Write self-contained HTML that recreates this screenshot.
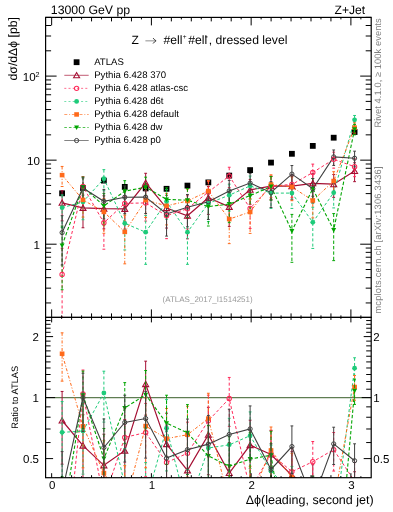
<!DOCTYPE html>
<html><head><meta charset="utf-8"><style>
html,body{margin:0;padding:0;background:#fff;}
svg{display:block;will-change:transform;}
text{font-family:"Liberation Sans",sans-serif;text-rendering:geometricPrecision;}
</style></head><body>
<svg width="393" height="512" viewBox="0 0 393 512">
<rect width="393" height="512" fill="#fff"/>
<clipPath id="cm"><rect x="45.6" y="17.4" width="325.59999999999997" height="300.0"/></clipPath>
<clipPath id="cr"><rect x="45.6" y="317.4" width="325.59999999999997" height="160.3"/></clipPath>
<g clip-path="url(#cm)"><rect x="59.20" y="190.40" width="5.8" height="5.8" fill="#000"/><rect x="80.09" y="185.10" width="5.8" height="5.8" fill="#000"/><rect x="100.98" y="177.70" width="5.8" height="5.8" fill="#000"/><rect x="121.87" y="184.00" width="5.8" height="5.8" fill="#000"/><rect x="142.76" y="185.50" width="5.8" height="5.8" fill="#000"/><rect x="163.65" y="185.90" width="5.8" height="5.8" fill="#000"/><rect x="184.55" y="182.70" width="5.8" height="5.8" fill="#000"/><rect x="205.44" y="179.50" width="5.8" height="5.8" fill="#000"/><rect x="226.33" y="172.70" width="5.8" height="5.8" fill="#000"/><rect x="247.22" y="167.20" width="5.8" height="5.8" fill="#000"/><rect x="268.11" y="159.70" width="5.8" height="5.8" fill="#000"/><rect x="289.00" y="150.90" width="5.8" height="5.8" fill="#000"/><rect x="309.89" y="143.00" width="5.8" height="5.8" fill="#000"/><rect x="330.79" y="134.80" width="5.8" height="5.8" fill="#000"/><rect x="351.68" y="129.10" width="5.8" height="5.8" fill="#000"/><path d="M62.10 190.74V220.92M82.99 195.11V227.76M103.88 195.79V228.86M124.77 195.96V229.13M145.66 173.29V195.69M166.55 195.28V228.04M187.45 201.80V238.81M208.34 186.43V214.40M229.23 194.26V226.41M250.12 179.46V204.28M271.01 176.29V199.84M291.90 176.21V199.72M312.79 173.73V196.30M333.69 174.53V197.39M354.58 162.76V181.66" stroke="#a50f33" stroke-width="1" fill="none"/>
<path d="M60.70 190.74h2.8M60.70 220.92h2.8M81.59 195.11h2.8M81.59 227.76h2.8M102.48 195.79h2.8M102.48 228.86h2.8M123.37 195.96h2.8M123.37 229.13h2.8M144.26 173.29h2.8M144.26 195.69h2.8M165.15 195.28h2.8M165.15 228.04h2.8M186.05 201.80h2.8M186.05 238.81h2.8M206.94 186.43h2.8M206.94 214.40h2.8M227.83 194.26h2.8M227.83 226.41h2.8M248.72 179.46h2.8M248.72 204.28h2.8M269.61 176.29h2.8M269.61 199.84h2.8M290.50 176.21h2.8M290.50 199.72h2.8M311.39 173.73h2.8M311.39 196.30h2.8M332.29 174.53h2.8M332.29 197.39h2.8M353.18 162.76h2.8M353.18 181.66h2.8" stroke="#a50f33" stroke-width="1" fill="none"/>
<polyline points="62.10,202.80 82.99,207.90 103.88,208.70 124.77,208.90 145.66,182.80 166.55,208.10 187.45,215.80 208.34,197.80 229.23,206.90 250.12,189.80 271.01,186.20 291.90,186.10 312.79,183.30 333.69,184.20 354.58,171.00" stroke="#a50f33" stroke-width="1.2" fill="none"/>
<path d="M62.10 248.31V322.40M82.99 176.56V200.21M103.88 207.64V249.19M124.77 191.26V221.72M145.66 190.83V221.06M166.55 201.71V238.67M187.45 195.79V228.86M208.34 181.38V207.03M229.23 167.24V187.54M250.12 195.53V228.44M271.01 176.12V199.59M291.90 174.79V197.76M312.79 164.11V183.41M333.69 152.17V168.17M354.58 158.89V176.65" stroke="#ff2a5a" stroke-width="1" stroke-dasharray="3 2.2" fill="none"/>
<path d="M60.70 248.31h2.8M60.70 322.40h2.8M81.59 176.56h2.8M81.59 200.21h2.8M102.48 207.64h2.8M102.48 249.19h2.8M123.37 191.26h2.8M123.37 221.72h2.8M144.26 190.83h2.8M144.26 221.06h2.8M165.15 201.71h2.8M165.15 238.67h2.8M186.05 195.79h2.8M186.05 228.86h2.8M206.94 181.38h2.8M206.94 207.03h2.8M227.83 167.24h2.8M227.83 187.54h2.8M248.72 195.53h2.8M248.72 228.44h2.8M269.61 176.12h2.8M269.61 199.59h2.8M290.50 174.79h2.8M290.50 197.76h2.8M311.39 164.11h2.8M311.39 183.41h2.8M332.29 152.17h2.8M332.29 168.17h2.8M353.18 158.89h2.8M353.18 176.65h2.8" stroke="#ff2a5a" stroke-width="1" fill="none"/>
<polyline points="62.10,274.40 82.99,186.50 103.88,222.80 124.77,203.40 145.66,202.90 166.55,215.70 187.45,208.70 208.34,192.00 229.23,176.00 250.12,208.40 271.01,186.00 291.90,184.50 312.79,172.50 333.69,159.30 354.58,166.70" stroke="#ff2a5a" stroke-width="1.0" stroke-dasharray="3 2.2" fill="none"/>
<path d="M62.10 194.94V227.49M82.99 189.97V219.74M103.88 169.65V190.76M124.77 208.06V249.96M145.66 215.38V264.34M166.55 189.63V219.21M187.45 215.38V264.34M208.34 191.17V221.59M229.23 184.17V211.07M250.12 176.03V199.47M271.01 182.34V208.41M291.90 182.34V208.41M312.79 207.23V248.43M333.69 182.00V207.91M354.58 115.48V124.70" stroke="#1ecb7a" stroke-width="1" stroke-dasharray="3 2.2" fill="none"/>
<path d="M60.70 194.94h2.8M60.70 227.49h2.8M81.59 189.97h2.8M81.59 219.74h2.8M102.48 169.65h2.8M102.48 190.76h2.8M123.37 208.06h2.8M123.37 249.96h2.8M144.26 215.38h2.8M144.26 264.34h2.8M165.15 189.63h2.8M165.15 219.21h2.8M186.05 215.38h2.8M186.05 264.34h2.8M206.94 191.17h2.8M206.94 221.59h2.8M227.83 184.17h2.8M227.83 211.07h2.8M248.72 176.03h2.8M248.72 199.47h2.8M269.61 182.34h2.8M269.61 208.41h2.8M290.50 182.34h2.8M290.50 208.41h2.8M311.39 207.23h2.8M311.39 248.43h2.8M332.29 182.00h2.8M332.29 207.91h2.8M353.18 115.48h2.8M353.18 124.70h2.8" stroke="#1ecb7a" stroke-width="1" fill="none"/>
<polyline points="62.10,207.70 82.99,201.90 103.88,178.70 124.77,223.30 145.66,232.20 166.55,201.50 187.45,232.20 208.34,203.30 229.23,195.20 250.12,185.90 271.01,193.10 291.90,193.10 312.79,222.30 333.69,192.70 354.58,119.80" stroke="#1ecb7a" stroke-width="1.0" stroke-dasharray="3 2.2" fill="none"/>
<path d="M62.10 166.44V186.48M82.99 188.25V217.12M103.88 198.51V233.28M124.77 215.13V263.83M145.66 188.51V217.51M166.55 193.32V224.92M187.45 189.20V218.56M208.34 180.60V205.90M229.23 204.56V243.63M250.12 198.59V233.42M271.01 174.79V197.76M291.90 176.91V200.70M312.79 188.76V217.90M333.69 171.70V193.52M354.58 122.83V133.09" stroke="#ff6a1a" stroke-width="1" stroke-dasharray="3 1.8 1 1.8" fill="none"/>
<path d="M60.70 166.44h2.8M60.70 186.48h2.8M81.59 188.25h2.8M81.59 217.12h2.8M102.48 198.51h2.8M102.48 233.28h2.8M123.37 215.13h2.8M123.37 263.83h2.8M144.26 188.51h2.8M144.26 217.51h2.8M165.15 193.32h2.8M165.15 224.92h2.8M186.05 189.20h2.8M186.05 218.56h2.8M206.94 180.60h2.8M206.94 205.90h2.8M227.83 204.56h2.8M227.83 243.63h2.8M248.72 198.59h2.8M248.72 233.42h2.8M269.61 174.79h2.8M269.61 197.76h2.8M290.50 176.91h2.8M290.50 200.70h2.8M311.39 188.76h2.8M311.39 217.90h2.8M332.29 171.70h2.8M332.29 193.52h2.8M353.18 122.83h2.8M353.18 133.09h2.8" stroke="#ff6a1a" stroke-width="1" fill="none"/>
<polyline points="62.10,175.10 82.99,199.90 103.88,211.90 124.77,231.90 145.66,200.20 166.55,205.80 187.45,201.00 208.34,191.10 229.23,219.10 250.12,212.00 271.01,184.50 291.90,186.90 312.79,200.50 333.69,181.00 354.58,127.60" stroke="#ff6a1a" stroke-width="1.0" stroke-dasharray="3 1.8 1 1.8" fill="none"/>
<path d="M62.10 226.08V289.74M82.99 177.00V200.82M103.88 193.40V225.06M124.77 180.68V206.03M145.66 177.17V201.07M166.55 187.81V216.47M187.45 188.51V217.51M208.34 194.00V226.00M229.23 191.86V222.65M250.12 184.52V211.58M271.01 176.56V200.21M291.90 214.40V262.31M312.79 178.49V202.92M333.69 213.58V260.64M354.58 124.33V134.82" stroke="#00a500" stroke-width="1" stroke-dasharray="3.4 2" fill="none"/>
<path d="M60.70 226.08h2.8M60.70 289.74h2.8M81.59 177.00h2.8M81.59 200.82h2.8M102.48 193.40h2.8M102.48 225.06h2.8M123.37 180.68h2.8M123.37 206.03h2.8M144.26 177.17h2.8M144.26 201.07h2.8M165.15 187.81h2.8M165.15 216.47h2.8M186.05 188.51h2.8M186.05 217.51h2.8M206.94 194.00h2.8M206.94 226.00h2.8M227.83 191.86h2.8M227.83 222.65h2.8M248.72 184.52h2.8M248.72 211.58h2.8M269.61 176.56h2.8M269.61 200.21h2.8M290.50 214.40h2.8M290.50 262.31h2.8M311.39 178.49h2.8M311.39 202.92h2.8M332.29 213.58h2.8M332.29 260.64h2.8M353.18 124.33h2.8M353.18 134.82h2.8" stroke="#00a500" stroke-width="1" fill="none"/>
<polyline points="62.10,245.50 82.99,187.00 103.88,205.90 124.77,191.20 145.66,187.20 166.55,199.40 187.45,200.20 208.34,206.60 229.23,204.10 250.12,195.60 271.01,186.50 291.90,231.00 312.79,188.70 333.69,230.00 354.58,129.20" stroke="#00a500" stroke-width="1.1" stroke-dasharray="3.4 2" fill="none"/>
<path d="M62.10 215.70V265.02M82.99 177.88V202.05M103.88 189.45V218.95M124.77 185.91V213.63M145.66 185.82V213.50M166.55 200.20V236.10M187.45 194.51V226.81M208.34 189.80V219.47M229.23 180.42V205.65M250.12 173.56V196.06M271.01 181.73V207.53M291.90 165.54V185.30M312.79 178.49V202.92M333.69 149.98V165.44M354.58 151.17V166.92" stroke="#404040" stroke-width="1" fill="none"/>
<path d="M60.70 215.70h2.8M60.70 265.02h2.8M81.59 177.88h2.8M81.59 202.05h2.8M102.48 189.45h2.8M102.48 218.95h2.8M123.37 185.91h2.8M123.37 213.63h2.8M144.26 185.82h2.8M144.26 213.50h2.8M165.15 200.20h2.8M165.15 236.10h2.8M186.05 194.51h2.8M186.05 226.81h2.8M206.94 189.80h2.8M206.94 219.47h2.8M227.83 180.42h2.8M227.83 205.65h2.8M248.72 173.56h2.8M248.72 196.06h2.8M269.61 181.73h2.8M269.61 207.53h2.8M290.50 165.54h2.8M290.50 185.30h2.8M311.39 178.49h2.8M311.39 202.92h2.8M332.29 149.98h2.8M332.29 165.44h2.8M353.18 151.17h2.8M353.18 166.92h2.8" stroke="#404040" stroke-width="1" fill="none"/>
<polyline points="62.10,232.60 82.99,188.00 103.88,201.30 124.77,197.20 145.66,197.10 166.55,213.90 187.45,207.20 208.34,201.70 229.23,190.90 250.12,183.10 271.01,192.40 291.90,174.10 312.79,188.70 333.69,156.90 354.58,158.20" stroke="#404040" stroke-width="1.1" fill="none"/>
<path d="M59.10 205.30L62.10 200.10L65.10 205.30Z" fill="none" stroke="#a50f33" stroke-width="1.1"/>
<path d="M79.99 210.40L82.99 205.20L85.99 210.40Z" fill="none" stroke="#a50f33" stroke-width="1.1"/>
<path d="M100.88 211.20L103.88 206.00L106.88 211.20Z" fill="none" stroke="#a50f33" stroke-width="1.1"/>
<path d="M121.77 211.40L124.77 206.20L127.77 211.40Z" fill="none" stroke="#a50f33" stroke-width="1.1"/>
<path d="M142.66 185.30L145.66 180.10L148.66 185.30Z" fill="none" stroke="#a50f33" stroke-width="1.1"/>
<path d="M163.55 210.60L166.55 205.40L169.55 210.60Z" fill="none" stroke="#a50f33" stroke-width="1.1"/>
<path d="M184.45 218.30L187.45 213.10L190.45 218.30Z" fill="none" stroke="#a50f33" stroke-width="1.1"/>
<path d="M205.34 200.30L208.34 195.10L211.34 200.30Z" fill="none" stroke="#a50f33" stroke-width="1.1"/>
<path d="M226.23 209.40L229.23 204.20L232.23 209.40Z" fill="none" stroke="#a50f33" stroke-width="1.1"/>
<path d="M247.12 192.30L250.12 187.10L253.12 192.30Z" fill="none" stroke="#a50f33" stroke-width="1.1"/>
<path d="M268.01 188.70L271.01 183.50L274.01 188.70Z" fill="none" stroke="#a50f33" stroke-width="1.1"/>
<path d="M288.90 188.60L291.90 183.40L294.90 188.60Z" fill="none" stroke="#a50f33" stroke-width="1.1"/>
<path d="M309.79 185.80L312.79 180.60L315.79 185.80Z" fill="none" stroke="#a50f33" stroke-width="1.1"/>
<path d="M330.69 186.70L333.69 181.50L336.69 186.70Z" fill="none" stroke="#a50f33" stroke-width="1.1"/>
<path d="M351.58 173.50L354.58 168.30L357.58 173.50Z" fill="none" stroke="#a50f33" stroke-width="1.1"/>
<circle cx="62.10" cy="274.40" r="2.2" fill="none" stroke="#ff2a5a" stroke-width="1.05"/>
<circle cx="82.99" cy="186.50" r="2.2" fill="none" stroke="#ff2a5a" stroke-width="1.05"/>
<circle cx="103.88" cy="222.80" r="2.2" fill="none" stroke="#ff2a5a" stroke-width="1.05"/>
<circle cx="124.77" cy="203.40" r="2.2" fill="none" stroke="#ff2a5a" stroke-width="1.05"/>
<circle cx="145.66" cy="202.90" r="2.2" fill="none" stroke="#ff2a5a" stroke-width="1.05"/>
<circle cx="166.55" cy="215.70" r="2.2" fill="none" stroke="#ff2a5a" stroke-width="1.05"/>
<circle cx="187.45" cy="208.70" r="2.2" fill="none" stroke="#ff2a5a" stroke-width="1.05"/>
<circle cx="208.34" cy="192.00" r="2.2" fill="none" stroke="#ff2a5a" stroke-width="1.05"/>
<circle cx="229.23" cy="176.00" r="2.2" fill="none" stroke="#ff2a5a" stroke-width="1.05"/>
<circle cx="250.12" cy="208.40" r="2.2" fill="none" stroke="#ff2a5a" stroke-width="1.05"/>
<circle cx="271.01" cy="186.00" r="2.2" fill="none" stroke="#ff2a5a" stroke-width="1.05"/>
<circle cx="291.90" cy="184.50" r="2.2" fill="none" stroke="#ff2a5a" stroke-width="1.05"/>
<circle cx="312.79" cy="172.50" r="2.2" fill="none" stroke="#ff2a5a" stroke-width="1.05"/>
<circle cx="333.69" cy="159.30" r="2.2" fill="none" stroke="#ff2a5a" stroke-width="1.05"/>
<circle cx="354.58" cy="166.70" r="2.2" fill="none" stroke="#ff2a5a" stroke-width="1.05"/>
<circle cx="62.10" cy="207.70" r="2.4" fill="#1ecb7a"/>
<circle cx="82.99" cy="201.90" r="2.4" fill="#1ecb7a"/>
<circle cx="103.88" cy="178.70" r="2.4" fill="#1ecb7a"/>
<circle cx="124.77" cy="223.30" r="2.4" fill="#1ecb7a"/>
<circle cx="145.66" cy="232.20" r="2.4" fill="#1ecb7a"/>
<circle cx="166.55" cy="201.50" r="2.4" fill="#1ecb7a"/>
<circle cx="187.45" cy="232.20" r="2.4" fill="#1ecb7a"/>
<circle cx="208.34" cy="203.30" r="2.4" fill="#1ecb7a"/>
<circle cx="229.23" cy="195.20" r="2.4" fill="#1ecb7a"/>
<circle cx="250.12" cy="185.90" r="2.4" fill="#1ecb7a"/>
<circle cx="271.01" cy="193.10" r="2.4" fill="#1ecb7a"/>
<circle cx="291.90" cy="193.10" r="2.4" fill="#1ecb7a"/>
<circle cx="312.79" cy="222.30" r="2.4" fill="#1ecb7a"/>
<circle cx="333.69" cy="192.70" r="2.4" fill="#1ecb7a"/>
<circle cx="354.58" cy="119.80" r="2.4" fill="#1ecb7a"/>
<rect x="59.75" y="172.85" width="4.7" height="4.5" fill="#ff6a1a"/>
<rect x="80.64" y="197.65" width="4.7" height="4.5" fill="#ff6a1a"/>
<rect x="101.53" y="209.65" width="4.7" height="4.5" fill="#ff6a1a"/>
<rect x="122.42" y="229.65" width="4.7" height="4.5" fill="#ff6a1a"/>
<rect x="143.31" y="197.95" width="4.7" height="4.5" fill="#ff6a1a"/>
<rect x="164.20" y="203.55" width="4.7" height="4.5" fill="#ff6a1a"/>
<rect x="185.10" y="198.75" width="4.7" height="4.5" fill="#ff6a1a"/>
<rect x="205.99" y="188.85" width="4.7" height="4.5" fill="#ff6a1a"/>
<rect x="226.88" y="216.85" width="4.7" height="4.5" fill="#ff6a1a"/>
<rect x="247.77" y="209.75" width="4.7" height="4.5" fill="#ff6a1a"/>
<rect x="268.66" y="182.25" width="4.7" height="4.5" fill="#ff6a1a"/>
<rect x="289.55" y="184.65" width="4.7" height="4.5" fill="#ff6a1a"/>
<rect x="310.44" y="198.25" width="4.7" height="4.5" fill="#ff6a1a"/>
<rect x="331.34" y="178.75" width="4.7" height="4.5" fill="#ff6a1a"/>
<rect x="352.23" y="125.35" width="4.7" height="4.5" fill="#ff6a1a"/>
<path d="M59.60 243.50L64.60 243.50L62.10 248.00Z" fill="#00a500"/>
<path d="M80.49 185.00L85.49 185.00L82.99 189.50Z" fill="#00a500"/>
<path d="M101.38 203.90L106.38 203.90L103.88 208.40Z" fill="#00a500"/>
<path d="M122.27 189.20L127.27 189.20L124.77 193.70Z" fill="#00a500"/>
<path d="M143.16 185.20L148.16 185.20L145.66 189.70Z" fill="#00a500"/>
<path d="M164.05 197.40L169.05 197.40L166.55 201.90Z" fill="#00a500"/>
<path d="M184.95 198.20L189.95 198.20L187.45 202.70Z" fill="#00a500"/>
<path d="M205.84 204.60L210.84 204.60L208.34 209.10Z" fill="#00a500"/>
<path d="M226.73 202.10L231.73 202.10L229.23 206.60Z" fill="#00a500"/>
<path d="M247.62 193.60L252.62 193.60L250.12 198.10Z" fill="#00a500"/>
<path d="M268.51 184.50L273.51 184.50L271.01 189.00Z" fill="#00a500"/>
<path d="M289.40 229.00L294.40 229.00L291.90 233.50Z" fill="#00a500"/>
<path d="M310.29 186.70L315.29 186.70L312.79 191.20Z" fill="#00a500"/>
<path d="M331.19 228.00L336.19 228.00L333.69 232.50Z" fill="#00a500"/>
<path d="M352.08 127.20L357.08 127.20L354.58 131.70Z" fill="#00a500"/>
<circle cx="62.10" cy="232.60" r="2.1" fill="none" stroke="#404040" stroke-width="1"/>
<circle cx="82.99" cy="188.00" r="2.1" fill="none" stroke="#404040" stroke-width="1"/>
<circle cx="103.88" cy="201.30" r="2.1" fill="none" stroke="#404040" stroke-width="1"/>
<circle cx="124.77" cy="197.20" r="2.1" fill="none" stroke="#404040" stroke-width="1"/>
<circle cx="145.66" cy="197.10" r="2.1" fill="none" stroke="#404040" stroke-width="1"/>
<circle cx="166.55" cy="213.90" r="2.1" fill="none" stroke="#404040" stroke-width="1"/>
<circle cx="187.45" cy="207.20" r="2.1" fill="none" stroke="#404040" stroke-width="1"/>
<circle cx="208.34" cy="201.70" r="2.1" fill="none" stroke="#404040" stroke-width="1"/>
<circle cx="229.23" cy="190.90" r="2.1" fill="none" stroke="#404040" stroke-width="1"/>
<circle cx="250.12" cy="183.10" r="2.1" fill="none" stroke="#404040" stroke-width="1"/>
<circle cx="271.01" cy="192.40" r="2.1" fill="none" stroke="#404040" stroke-width="1"/>
<circle cx="291.90" cy="174.10" r="2.1" fill="none" stroke="#404040" stroke-width="1"/>
<circle cx="312.79" cy="188.70" r="2.1" fill="none" stroke="#404040" stroke-width="1"/>
<circle cx="333.69" cy="156.90" r="2.1" fill="none" stroke="#404040" stroke-width="1"/>
<circle cx="354.58" cy="158.20" r="2.1" fill="none" stroke="#404040" stroke-width="1"/></g>
<g clip-path="url(#cr)"><line x1="45.6" y1="397.60" x2="371.2" y2="397.60" stroke="#5f7d52" stroke-width="1.2"/>
<path d="M62.10 391.44V464.20M82.99 414.74V493.47M103.88 434.22V513.94M124.77 419.44V499.41M145.66 361.17V415.18M166.55 413.22V492.19M187.45 436.65V525.89M208.34 407.32V474.76M229.23 442.58V520.09M250.12 420.16V480.01M271.01 430.62V487.38M291.90 451.62V508.30M312.79 464.71V519.11M333.69 486.39V541.52M354.58 471.77V517.31" stroke="#a50f33" stroke-width="1" fill="none"/>
<path d="M60.70 391.44h2.8M60.70 464.20h2.8M81.59 414.74h2.8M81.59 493.47h2.8M102.48 434.22h2.8M102.48 513.94h2.8M123.37 419.44h2.8M123.37 499.41h2.8M144.26 361.17h2.8M144.26 415.18h2.8M165.15 413.22h2.8M165.15 492.19h2.8M186.05 436.65h2.8M186.05 525.89h2.8M206.94 407.32h2.8M206.94 474.76h2.8M227.83 442.58h2.8M227.83 520.09h2.8M248.72 420.16h2.8M248.72 480.01h2.8M269.61 430.62h2.8M269.61 487.38h2.8M290.50 451.62h2.8M290.50 508.30h2.8M311.39 464.71h2.8M311.39 519.11h2.8M332.29 486.39h2.8M332.29 541.52h2.8M353.18 471.77h2.8M353.18 517.31h2.8" stroke="#a50f33" stroke-width="1" fill="none"/>
<polyline points="62.10,420.50 82.99,445.58 103.88,465.35 124.77,450.64 145.66,384.10 166.55,444.13 187.45,470.41 208.34,434.73 229.23,473.06 250.12,445.10 271.01,454.50 291.90,475.47 312.79,487.77 333.69,509.71 354.58,491.63" stroke="#a50f33" stroke-width="1.2" fill="none"/>
<path d="M59.10 423.00L62.10 417.80L65.10 423.00Z" fill="none" stroke="#a50f33" stroke-width="1.1"/>
<path d="M79.99 448.08L82.99 442.88L85.99 448.08Z" fill="none" stroke="#a50f33" stroke-width="1.1"/>
<path d="M100.88 467.85L103.88 462.65L106.88 467.85Z" fill="none" stroke="#a50f33" stroke-width="1.1"/>
<path d="M121.77 453.14L124.77 447.94L127.77 453.14Z" fill="none" stroke="#a50f33" stroke-width="1.1"/>
<path d="M142.66 386.60L145.66 381.40L148.66 386.60Z" fill="none" stroke="#a50f33" stroke-width="1.1"/>
<path d="M163.55 446.63L166.55 441.43L169.55 446.63Z" fill="none" stroke="#a50f33" stroke-width="1.1"/>
<path d="M184.45 472.91L187.45 467.71L190.45 472.91Z" fill="none" stroke="#a50f33" stroke-width="1.1"/>
<path d="M205.34 437.23L208.34 432.03L211.34 437.23Z" fill="none" stroke="#a50f33" stroke-width="1.1"/>
<path d="M226.23 475.56L229.23 470.36L232.23 475.56Z" fill="none" stroke="#a50f33" stroke-width="1.1"/>
<path d="M247.12 447.60L250.12 442.40L253.12 447.60Z" fill="none" stroke="#a50f33" stroke-width="1.1"/>
<path d="M268.01 457.00L271.01 451.80L274.01 457.00Z" fill="none" stroke="#a50f33" stroke-width="1.1"/>
<path d="M288.90 477.97L291.90 472.77L294.90 477.97Z" fill="none" stroke="#a50f33" stroke-width="1.1"/>
<path d="M309.79 490.27L312.79 485.07L315.79 490.27Z" fill="none" stroke="#a50f33" stroke-width="1.1"/>
<path d="M330.69 512.21L333.69 507.01L336.69 512.21Z" fill="none" stroke="#a50f33" stroke-width="1.1"/>
<path d="M351.58 494.13L354.58 488.93L357.58 494.13Z" fill="none" stroke="#a50f33" stroke-width="1.1"/>
<path d="M62.10 530.23V482.70M82.99 370.02V427.03M103.88 462.80V562.96M124.77 408.11V481.54M145.66 403.46V476.33M166.55 428.73V517.83M187.45 422.17V501.88M208.34 395.15V456.98M229.23 377.45V426.39M250.12 458.92V538.26M271.01 430.19V486.79M291.90 448.22V503.58M312.79 441.50V488.04M333.69 432.49V471.05M354.58 462.42V505.26" stroke="#ff2a5a" stroke-width="1" stroke-dasharray="3 2.2" fill="none"/>
<path d="M60.70 530.23h2.8M60.70 482.70h2.8M81.59 370.02h2.8M81.59 427.03h2.8M102.48 462.80h2.8M102.48 562.96h2.8M123.37 408.11h2.8M123.37 481.54h2.8M144.26 403.46h2.8M144.26 476.33h2.8M165.15 428.73h2.8M165.15 517.83h2.8M186.05 422.17h2.8M186.05 501.88h2.8M206.94 395.15h2.8M206.94 456.98h2.8M227.83 377.45h2.8M227.83 426.39h2.8M248.72 458.92h2.8M248.72 538.26h2.8M269.61 430.19h2.8M269.61 486.79h2.8M290.50 448.22h2.8M290.50 503.58h2.8M311.39 441.50h2.8M311.39 488.04h2.8M332.29 432.49h2.8M332.29 471.05h2.8M353.18 462.42h2.8M353.18 505.26h2.8" stroke="#ff2a5a" stroke-width="1" fill="none"/>
<polyline points="62.10,593.13 82.99,393.98 103.88,499.34 124.77,437.38 145.66,432.56 166.55,462.45 187.45,453.29 208.34,420.74 229.23,398.56 250.12,489.94 271.01,454.02 291.90,471.62 312.79,461.73 333.69,449.68 354.58,481.26" stroke="#ff2a5a" stroke-width="1.0" stroke-dasharray="3 2.2" fill="none"/>
<circle cx="62.10" cy="593.13" r="2.2" fill="none" stroke="#ff2a5a" stroke-width="1.05"/>
<circle cx="82.99" cy="393.98" r="2.2" fill="none" stroke="#ff2a5a" stroke-width="1.05"/>
<circle cx="103.88" cy="499.34" r="2.2" fill="none" stroke="#ff2a5a" stroke-width="1.05"/>
<circle cx="124.77" cy="437.38" r="2.2" fill="none" stroke="#ff2a5a" stroke-width="1.05"/>
<circle cx="145.66" cy="432.56" r="2.2" fill="none" stroke="#ff2a5a" stroke-width="1.05"/>
<circle cx="166.55" cy="462.45" r="2.2" fill="none" stroke="#ff2a5a" stroke-width="1.05"/>
<circle cx="187.45" cy="453.29" r="2.2" fill="none" stroke="#ff2a5a" stroke-width="1.05"/>
<circle cx="208.34" cy="420.74" r="2.2" fill="none" stroke="#ff2a5a" stroke-width="1.05"/>
<circle cx="229.23" cy="398.56" r="2.2" fill="none" stroke="#ff2a5a" stroke-width="1.05"/>
<circle cx="250.12" cy="489.94" r="2.2" fill="none" stroke="#ff2a5a" stroke-width="1.05"/>
<circle cx="271.01" cy="454.02" r="2.2" fill="none" stroke="#ff2a5a" stroke-width="1.05"/>
<circle cx="291.90" cy="471.62" r="2.2" fill="none" stroke="#ff2a5a" stroke-width="1.05"/>
<circle cx="312.79" cy="461.73" r="2.2" fill="none" stroke="#ff2a5a" stroke-width="1.05"/>
<circle cx="333.69" cy="449.68" r="2.2" fill="none" stroke="#ff2a5a" stroke-width="1.05"/>
<circle cx="354.58" cy="481.26" r="2.2" fill="none" stroke="#ff2a5a" stroke-width="1.05"/>
<path d="M62.10 401.55V480.03M82.99 402.35V474.12M103.88 371.20V422.09M124.77 448.61V549.63M145.66 462.64V580.68M166.55 399.59V470.92M187.45 469.39V587.43M208.34 418.75V492.07M229.23 418.27V483.13M250.12 411.90V468.41M271.01 445.20V508.06M291.90 466.42V529.27M312.79 545.46V644.78M333.69 504.39V566.87M354.58 357.78V379.99" stroke="#1ecb7a" stroke-width="1" stroke-dasharray="3 2.2" fill="none"/>
<path d="M60.70 401.55h2.8M60.70 480.03h2.8M81.59 402.35h2.8M81.59 474.12h2.8M102.48 371.20h2.8M102.48 422.09h2.8M123.37 448.61h2.8M123.37 549.63h2.8M144.26 462.64h2.8M144.26 580.68h2.8M165.15 399.59h2.8M165.15 470.92h2.8M186.05 469.39h2.8M186.05 587.43h2.8M206.94 418.75h2.8M206.94 492.07h2.8M227.83 418.27h2.8M227.83 483.13h2.8M248.72 411.90h2.8M248.72 468.41h2.8M269.61 445.20h2.8M269.61 508.06h2.8M290.50 466.42h2.8M290.50 529.27h2.8M311.39 545.46h2.8M311.39 644.78h2.8M332.29 504.39h2.8M332.29 566.87h2.8M353.18 357.78h2.8M353.18 379.99h2.8" stroke="#1ecb7a" stroke-width="1" fill="none"/>
<polyline points="62.10,432.32 82.99,431.11 103.88,393.02 124.77,485.36 145.66,503.20 166.55,428.22 187.45,509.95 208.34,447.99 229.23,444.85 250.12,435.69 271.01,471.13 291.90,492.35 312.79,581.79 333.69,530.20 354.58,368.19" stroke="#1ecb7a" stroke-width="1.0" stroke-dasharray="3 2.2" fill="none"/>
<circle cx="62.10" cy="432.32" r="2.4" fill="#1ecb7a"/>
<circle cx="82.99" cy="431.11" r="2.4" fill="#1ecb7a"/>
<circle cx="103.88" cy="393.02" r="2.4" fill="#1ecb7a"/>
<circle cx="124.77" cy="485.36" r="2.4" fill="#1ecb7a"/>
<circle cx="145.66" cy="503.20" r="2.4" fill="#1ecb7a"/>
<circle cx="166.55" cy="428.22" r="2.4" fill="#1ecb7a"/>
<circle cx="187.45" cy="509.95" r="2.4" fill="#1ecb7a"/>
<circle cx="208.34" cy="447.99" r="2.4" fill="#1ecb7a"/>
<circle cx="229.23" cy="444.85" r="2.4" fill="#1ecb7a"/>
<circle cx="250.12" cy="435.69" r="2.4" fill="#1ecb7a"/>
<circle cx="271.01" cy="471.13" r="2.4" fill="#1ecb7a"/>
<circle cx="291.90" cy="492.35" r="2.4" fill="#1ecb7a"/>
<circle cx="312.79" cy="581.79" r="2.4" fill="#1ecb7a"/>
<circle cx="333.69" cy="530.20" r="2.4" fill="#1ecb7a"/>
<circle cx="354.58" cy="368.19" r="2.4" fill="#1ecb7a"/>
<path d="M62.10 332.84V381.15M82.99 398.19V467.81M103.88 440.77V524.61M124.77 465.67V583.07M145.66 397.85V467.79M166.55 408.49V484.69M187.45 406.27V477.06M208.34 393.25V454.27M229.23 467.43V561.60M250.12 466.29V550.26M271.01 427.00V482.37M291.90 453.32V510.67M312.79 500.94V571.19M333.69 479.56V532.17M354.58 375.48V400.23" stroke="#ff6a1a" stroke-width="1" stroke-dasharray="3 1.8 1 1.8" fill="none"/>
<path d="M60.70 332.84h2.8M60.70 381.15h2.8M81.59 398.19h2.8M81.59 467.81h2.8M102.48 440.77h2.8M102.48 524.61h2.8M123.37 465.67h2.8M123.37 583.07h2.8M144.26 397.85h2.8M144.26 467.79h2.8M165.15 408.49h2.8M165.15 484.69h2.8M186.05 406.27h2.8M186.05 477.06h2.8M206.94 393.25h2.8M206.94 454.27h2.8M227.83 467.43h2.8M227.83 561.60h2.8M248.72 466.29h2.8M248.72 550.26h2.8M269.61 427.00h2.8M269.61 482.37h2.8M290.50 453.32h2.8M290.50 510.67h2.8M311.39 500.94h2.8M311.39 571.19h2.8M332.29 479.56h2.8M332.29 532.17h2.8M353.18 375.48h2.8M353.18 400.23h2.8" stroke="#ff6a1a" stroke-width="1" fill="none"/>
<polyline points="62.10,353.72 82.99,426.29 103.88,473.06 124.77,506.09 145.66,426.05 166.55,438.59 187.45,434.73 208.34,418.57 229.23,502.47 250.12,498.62 271.01,450.40 291.90,477.40 312.79,529.24 333.69,501.99 354.58,386.99" stroke="#ff6a1a" stroke-width="1.0" stroke-dasharray="3 1.8 1 1.8" fill="none"/>
<rect x="59.75" y="351.47" width="4.7" height="4.5" fill="#ff6a1a"/>
<rect x="80.64" y="424.04" width="4.7" height="4.5" fill="#ff6a1a"/>
<rect x="101.53" y="470.81" width="4.7" height="4.5" fill="#ff6a1a"/>
<rect x="122.42" y="503.84" width="4.7" height="4.5" fill="#ff6a1a"/>
<rect x="143.31" y="423.80" width="4.7" height="4.5" fill="#ff6a1a"/>
<rect x="164.20" y="436.34" width="4.7" height="4.5" fill="#ff6a1a"/>
<rect x="185.10" y="432.48" width="4.7" height="4.5" fill="#ff6a1a"/>
<rect x="205.99" y="416.32" width="4.7" height="4.5" fill="#ff6a1a"/>
<rect x="226.88" y="500.22" width="4.7" height="4.5" fill="#ff6a1a"/>
<rect x="247.77" y="496.37" width="4.7" height="4.5" fill="#ff6a1a"/>
<rect x="268.66" y="448.15" width="4.7" height="4.5" fill="#ff6a1a"/>
<rect x="289.55" y="475.15" width="4.7" height="4.5" fill="#ff6a1a"/>
<rect x="310.44" y="526.99" width="4.7" height="4.5" fill="#ff6a1a"/>
<rect x="331.34" y="499.74" width="4.7" height="4.5" fill="#ff6a1a"/>
<rect x="352.23" y="384.74" width="4.7" height="4.5" fill="#ff6a1a"/>
<path d="M62.10 476.63V630.11M82.99 371.08V428.51M103.88 428.46V504.78M124.77 382.62V443.72M145.66 370.54V428.14M166.55 395.22V464.31M187.45 404.60V474.54M208.34 425.57V502.72M229.23 436.80V511.03M250.12 432.37V497.61M271.01 431.25V488.26M291.90 543.70V659.21M312.79 476.18V535.07M333.69 580.54V694.00M354.58 379.10V404.41" stroke="#00a500" stroke-width="1" stroke-dasharray="3.4 2" fill="none"/>
<path d="M60.70 476.63h2.8M60.70 630.11h2.8M81.59 371.08h2.8M81.59 428.51h2.8M102.48 428.46h2.8M102.48 504.78h2.8M123.37 382.62h2.8M123.37 443.72h2.8M144.26 370.54h2.8M144.26 428.14h2.8M165.15 395.22h2.8M165.15 464.31h2.8M186.05 404.60h2.8M186.05 474.54h2.8M206.94 425.57h2.8M206.94 502.72h2.8M227.83 436.80h2.8M227.83 511.03h2.8M248.72 432.37h2.8M248.72 497.61h2.8M269.61 431.25h2.8M269.61 488.26h2.8M290.50 543.70h2.8M290.50 659.21h2.8M311.39 476.18h2.8M311.39 535.07h2.8M332.29 580.54h2.8M332.29 694.00h2.8M353.18 379.10h2.8M353.18 404.41h2.8" stroke="#00a500" stroke-width="1" fill="none"/>
<polyline points="62.10,523.45 82.99,395.19 103.88,458.60 124.77,407.97 145.66,394.71 166.55,423.16 187.45,432.80 208.34,455.94 229.23,466.31 250.12,459.08 271.01,455.22 291.90,583.72 312.79,500.79 333.69,620.13 354.58,390.85" stroke="#00a500" stroke-width="1.1" stroke-dasharray="3.4 2" fill="none"/>
<path d="M59.60 521.45L64.60 521.45L62.10 525.95Z" fill="#00a500"/>
<path d="M80.49 393.19L85.49 393.19L82.99 397.69Z" fill="#00a500"/>
<path d="M101.38 456.60L106.38 456.60L103.88 461.10Z" fill="#00a500"/>
<path d="M122.27 405.97L127.27 405.97L124.77 410.47Z" fill="#00a500"/>
<path d="M143.16 392.71L148.16 392.71L145.66 397.21Z" fill="#00a500"/>
<path d="M164.05 421.16L169.05 421.16L166.55 425.66Z" fill="#00a500"/>
<path d="M184.95 430.80L189.95 430.80L187.45 435.30Z" fill="#00a500"/>
<path d="M205.84 453.94L210.84 453.94L208.34 458.44Z" fill="#00a500"/>
<path d="M226.73 464.31L231.73 464.31L229.23 468.81Z" fill="#00a500"/>
<path d="M247.62 457.08L252.62 457.08L250.12 461.58Z" fill="#00a500"/>
<path d="M268.51 453.22L273.51 453.22L271.01 457.72Z" fill="#00a500"/>
<path d="M289.40 581.72L294.40 581.72L291.90 586.22Z" fill="#00a500"/>
<path d="M310.29 498.79L315.29 498.79L312.79 503.29Z" fill="#00a500"/>
<path d="M331.19 618.13L336.19 618.13L333.69 622.63Z" fill="#00a500"/>
<path d="M352.08 388.85L357.08 388.85L354.58 393.35Z" fill="#00a500"/>
<path d="M62.10 451.61V570.52M82.99 373.20V431.48M103.88 418.95V490.06M124.77 395.21V462.05M145.66 391.39V458.12M166.55 425.07V511.63M187.45 419.09V496.96M208.34 415.44V486.98M229.23 409.23V470.06M250.12 405.93V460.18M271.01 443.73V505.93M291.90 425.91V473.53M312.79 476.18V535.07M333.69 427.21V464.49M354.58 443.81V481.78" stroke="#404040" stroke-width="1" fill="none"/>
<path d="M60.70 451.61h2.8M60.70 570.52h2.8M81.59 373.20h2.8M81.59 431.48h2.8M102.48 418.95h2.8M102.48 490.06h2.8M123.37 395.21h2.8M123.37 462.05h2.8M144.26 391.39h2.8M144.26 458.12h2.8M165.15 425.07h2.8M165.15 511.63h2.8M186.05 419.09h2.8M186.05 496.96h2.8M206.94 415.44h2.8M206.94 486.98h2.8M227.83 409.23h2.8M227.83 470.06h2.8M248.72 405.93h2.8M248.72 460.18h2.8M269.61 443.73h2.8M269.61 505.93h2.8M290.50 425.91h2.8M290.50 473.53h2.8M311.39 476.18h2.8M311.39 535.07h2.8M332.29 427.21h2.8M332.29 464.49h2.8M353.18 443.81h2.8M353.18 481.78h2.8" stroke="#404040" stroke-width="1" fill="none"/>
<polyline points="62.10,492.35 82.99,397.60 103.88,447.51 124.77,422.43 145.66,418.57 166.55,458.11 187.45,449.68 208.34,444.13 229.23,434.49 250.12,428.94 271.01,469.45 291.90,446.54 312.79,500.79 333.69,443.89 354.58,460.77" stroke="#404040" stroke-width="1.1" fill="none"/>
<circle cx="62.10" cy="492.35" r="2.1" fill="none" stroke="#404040" stroke-width="1"/>
<circle cx="82.99" cy="397.60" r="2.1" fill="none" stroke="#404040" stroke-width="1"/>
<circle cx="103.88" cy="447.51" r="2.1" fill="none" stroke="#404040" stroke-width="1"/>
<circle cx="124.77" cy="422.43" r="2.1" fill="none" stroke="#404040" stroke-width="1"/>
<circle cx="145.66" cy="418.57" r="2.1" fill="none" stroke="#404040" stroke-width="1"/>
<circle cx="166.55" cy="458.11" r="2.1" fill="none" stroke="#404040" stroke-width="1"/>
<circle cx="187.45" cy="449.68" r="2.1" fill="none" stroke="#404040" stroke-width="1"/>
<circle cx="208.34" cy="444.13" r="2.1" fill="none" stroke="#404040" stroke-width="1"/>
<circle cx="229.23" cy="434.49" r="2.1" fill="none" stroke="#404040" stroke-width="1"/>
<circle cx="250.12" cy="428.94" r="2.1" fill="none" stroke="#404040" stroke-width="1"/>
<circle cx="271.01" cy="469.45" r="2.1" fill="none" stroke="#404040" stroke-width="1"/>
<circle cx="291.90" cy="446.54" r="2.1" fill="none" stroke="#404040" stroke-width="1"/>
<circle cx="312.79" cy="500.79" r="2.1" fill="none" stroke="#404040" stroke-width="1"/>
<circle cx="333.69" cy="443.89" r="2.1" fill="none" stroke="#404040" stroke-width="1"/>
<circle cx="354.58" cy="460.77" r="2.1" fill="none" stroke="#404040" stroke-width="1"/></g>
<rect x="45.6" y="17.4" width="325.59999999999997" height="300.0" fill="none" stroke="#000" stroke-width="1.2"/>
<rect x="45.6" y="317.4" width="325.59999999999997" height="160.3" fill="none" stroke="#000" stroke-width="1.2"/>
<path d="M51.65 17.4v8M51.65 317.4v-8M51.65 317.4v5M51.65 477.7v-4.5M61.62 17.4v2M61.62 317.4v-2M61.62 317.4v1.5M61.62 477.7v-1.5M71.60 17.4v4M71.60 317.4v-4M71.60 317.4v2.5M71.60 477.7v-2.5M81.57 17.4v2M81.57 317.4v-2M81.57 317.4v1.5M81.57 477.7v-1.5M91.55 17.4v4M91.55 317.4v-4M91.55 317.4v2.5M91.55 477.7v-2.5M101.53 17.4v2M101.53 317.4v-2M101.53 317.4v1.5M101.53 477.7v-1.5M111.50 17.4v4M111.50 317.4v-4M111.50 317.4v2.5M111.50 477.7v-2.5M121.47 17.4v2M121.47 317.4v-2M121.47 317.4v1.5M121.47 477.7v-1.5M131.45 17.4v4M131.45 317.4v-4M131.45 317.4v2.5M131.45 477.7v-2.5M141.43 17.4v2M141.43 317.4v-2M141.43 317.4v1.5M141.43 477.7v-1.5M151.40 17.4v8M151.40 317.4v-8M151.40 317.4v5M151.40 477.7v-4.5M161.38 17.4v2M161.38 317.4v-2M161.38 317.4v1.5M161.38 477.7v-1.5M171.35 17.4v4M171.35 317.4v-4M171.35 317.4v2.5M171.35 477.7v-2.5M181.33 17.4v2M181.33 317.4v-2M181.33 317.4v1.5M181.33 477.7v-1.5M191.30 17.4v4M191.30 317.4v-4M191.30 317.4v2.5M191.30 477.7v-2.5M201.28 17.4v2M201.28 317.4v-2M201.28 317.4v1.5M201.28 477.7v-1.5M211.25 17.4v4M211.25 317.4v-4M211.25 317.4v2.5M211.25 477.7v-2.5M221.22 17.4v2M221.22 317.4v-2M221.22 317.4v1.5M221.22 477.7v-1.5M231.20 17.4v4M231.20 317.4v-4M231.20 317.4v2.5M231.20 477.7v-2.5M241.17 17.4v2M241.17 317.4v-2M241.17 317.4v1.5M241.17 477.7v-1.5M251.15 17.4v8M251.15 317.4v-8M251.15 317.4v5M251.15 477.7v-4.5M261.12 17.4v2M261.12 317.4v-2M261.12 317.4v1.5M261.12 477.7v-1.5M271.10 17.4v4M271.10 317.4v-4M271.10 317.4v2.5M271.10 477.7v-2.5M281.07 17.4v2M281.07 317.4v-2M281.07 317.4v1.5M281.07 477.7v-1.5M291.05 17.4v4M291.05 317.4v-4M291.05 317.4v2.5M291.05 477.7v-2.5M301.02 17.4v2M301.02 317.4v-2M301.02 317.4v1.5M301.02 477.7v-1.5M311.00 17.4v4M311.00 317.4v-4M311.00 317.4v2.5M311.00 477.7v-2.5M320.98 17.4v2M320.98 317.4v-2M320.98 317.4v1.5M320.98 477.7v-1.5M330.95 17.4v4M330.95 317.4v-4M330.95 317.4v2.5M330.95 477.7v-2.5M340.92 17.4v2M340.92 317.4v-2M340.92 317.4v1.5M340.92 477.7v-1.5M350.90 17.4v8M350.90 317.4v-8M350.90 317.4v5M350.90 477.7v-4.5M360.88 17.4v2M360.88 317.4v-2M360.88 317.4v1.5M360.88 477.7v-1.5M45.6 302.95h5.5M371.2 302.95h-5.5M45.6 288.15h5.5M371.2 288.15h-5.5M45.6 277.65h5.5M371.2 277.65h-5.5M45.6 269.50h5.5M371.2 269.50h-5.5M45.6 262.85h5.5M371.2 262.85h-5.5M45.6 257.22h5.5M371.2 257.22h-5.5M45.6 252.35h5.5M371.2 252.35h-5.5M45.6 248.05h5.5M371.2 248.05h-5.5M45.6 244.20h11M371.2 244.20h-11M45.6 218.90h5.5M371.2 218.90h-5.5M45.6 204.10h5.5M371.2 204.10h-5.5M45.6 193.60h5.5M371.2 193.60h-5.5M45.6 185.45h5.5M371.2 185.45h-5.5M45.6 178.80h5.5M371.2 178.80h-5.5M45.6 173.17h5.5M371.2 173.17h-5.5M45.6 168.30h5.5M371.2 168.30h-5.5M45.6 164.00h5.5M371.2 164.00h-5.5M45.6 160.15h11M371.2 160.15h-11M45.6 134.85h5.5M371.2 134.85h-5.5M45.6 120.05h5.5M371.2 120.05h-5.5M45.6 109.55h5.5M371.2 109.55h-5.5M45.6 101.40h5.5M371.2 101.40h-5.5M45.6 94.75h5.5M371.2 94.75h-5.5M45.6 89.12h5.5M371.2 89.12h-5.5M45.6 84.25h5.5M371.2 84.25h-5.5M45.6 79.95h5.5M371.2 79.95h-5.5M45.6 76.10h11M371.2 76.10h-11M45.6 50.80h5.5M371.2 50.80h-5.5M45.6 36.00h5.5M371.2 36.00h-5.5M45.6 25.50h5.5M371.2 25.50h-5.5M45.6 17.35h5.5M371.2 17.35h-5.5M45.6 458.60h7.5M371.2 458.60h-7.5M45.6 442.55h5M371.2 442.55h-5M45.6 428.99h5M371.2 428.99h-5M45.6 417.24h5M371.2 417.24h-5M45.6 406.87h5M371.2 406.87h-5M45.6 397.60h9.5M371.2 397.60h-9.5M45.6 389.21h5M371.2 389.21h-5M45.6 381.55h5M371.2 381.55h-5M45.6 374.51h5M371.2 374.51h-5M45.6 367.99h5M371.2 367.99h-5M45.6 361.92h5M371.2 361.92h-5M45.6 356.24h5M371.2 356.24h-5M45.6 350.90h5M371.2 350.90h-5M45.6 345.87h5M371.2 345.87h-5M45.6 341.11h5M371.2 341.11h-5M45.6 336.60h7.5M371.2 336.60h-7.5M45.6 332.31h5M371.2 332.31h-5M45.6 328.21h5M371.2 328.21h-5M45.6 324.30h5M371.2 324.30h-5M45.6 320.55h5M371.2 320.55h-5" stroke="#000" stroke-width="1" fill="none"/>
<text x="50.8" y="13.8" font-size="12.3" text-anchor="start" fill="#000" >13000 GeV pp</text>
<text x="365.2" y="13.8" font-size="12.1" text-anchor="end" fill="#000" >Z+Jet</text>
<text x="40" y="165.2" font-size="11.6" text-anchor="end" fill="#000" >10</text>
<text x="40" y="249.4" font-size="11.6" text-anchor="end" fill="#000" >1</text>
<text x="35.6" y="81.3" font-size="11.6" text-anchor="end">10</text>
<text x="35.6" y="77.1" font-size="7.2">2</text>
<text x="39" y="340.7" font-size="11.5" text-anchor="end" fill="#000" >2</text>
<text x="373.3" y="340.7" font-size="11.5" text-anchor="start" fill="#000" >2</text>
<text x="39" y="401.7" font-size="11.5" text-anchor="end" fill="#000" >1</text>
<text x="373.3" y="401.7" font-size="11.5" text-anchor="start" fill="#000" >1</text>
<text x="39" y="462.7" font-size="11.5" text-anchor="end" fill="#000" >0.5</text>
<text x="373.3" y="462.7" font-size="11.5" text-anchor="start" fill="#000" >0.5</text>
<text x="52.25" y="489.2" font-size="11.5" text-anchor="middle" fill="#000" >0</text>
<text x="152.0" y="489.2" font-size="11.5" text-anchor="middle" fill="#000" >1</text>
<text x="251.75" y="489.2" font-size="11.5" text-anchor="middle" fill="#000" >2</text>
<text x="351.5" y="489.2" font-size="11.5" text-anchor="middle" fill="#000" >3</text>
<text x="373.6" y="504" font-size="12.5" text-anchor="end" fill="#000" >Δϕ(leading, second jet)</text>
<text transform="translate(16.5,17) rotate(-90)" font-size="12.25" text-anchor="end">dσ/dΔϕ [pb]</text>
<text transform="translate(17.6,397.2) rotate(-90)" font-size="9.3" text-anchor="middle">Ratio to ATLAS</text>
<text transform="translate(380.6,127.6) rotate(-90)" font-size="9.3" textLength="109.3" lengthAdjust="spacing" fill="#808080">Rivet 4.1.0, ≥ 100k events</text>
<text transform="translate(380.6,313.6) rotate(-90)" font-size="9.3" textLength="147.2" lengthAdjust="spacing" fill="#808080">mcplots.cern.ch [arXiv:1306.3436]</text>
<text x="207.6" y="302.0" font-size="8" text-anchor="middle" fill="#999" >(ATLAS_2017_I1514251)</text>
<text x="131.6" y="43.9" font-size="12" text-anchor="start" fill="#000" >Z</text>
<path d="M145.4 40.8H155" stroke="#a8a8a8" stroke-width="1.3" fill="none"/><path d="M153.1 38.1Q154.6 40.1 156.1 40.8Q154.6 41.5 153.1 43.5" stroke="#222" stroke-width="0.9" fill="none"/>
<text x="163.4" y="43.9" font-size="12.2" text-anchor="start" fill="#000" >#ell</text>
<text x="182.8" y="39.3" font-size="6.5" text-anchor="start" fill="#000" >+</text>
<text x="188.2" y="43.9" font-size="12.2" text-anchor="start" fill="#000" >#ell</text>
<path d="M205.3 36.9H207.5" stroke="#000" stroke-width="0.9"/>
<text x="208.8" y="43.9" font-size="12.2" text-anchor="start" fill="#000" >, dressed level</text>
<rect x="73.70" y="59.30" width="5.8" height="5.8" fill="#000"/>
<text x="94.2" y="65.0" font-size="9.6" text-anchor="start" fill="#000" >ATLAS</text>
<line x1="64.3" y1="75.30" x2="88.7" y2="75.30" stroke="#a50f33" stroke-width="0.8" opacity="0.85"/>
<path d="M73.60 77.80L76.60 72.60L79.60 77.80Z" fill="none" stroke="#a50f33" stroke-width="1.1"/>
<text x="94.2" y="78.0" font-size="9.6" text-anchor="start" fill="#000" >Pythia 6.428 370</text>
<line x1="64.3" y1="88.35" x2="88.7" y2="88.35" stroke="#ff2a5a" stroke-width="0.8" opacity="0.85" stroke-dasharray="2 2.2"/>
<circle cx="76.60" cy="88.35" r="2.2" fill="none" stroke="#ff2a5a" stroke-width="1.05"/>
<text x="94.2" y="91.05" font-size="9.6" text-anchor="start" fill="#000" >Pythia 6.428 atlas-csc</text>
<line x1="64.3" y1="101.40" x2="88.7" y2="101.40" stroke="#1ecb7a" stroke-width="0.8" opacity="0.85" stroke-dasharray="2 2.2"/>
<circle cx="76.60" cy="101.40" r="2.4" fill="#1ecb7a"/>
<text x="94.2" y="104.1" font-size="9.6" text-anchor="start" fill="#000" >Pythia 6.428 d6t</text>
<line x1="64.3" y1="114.45" x2="88.7" y2="114.45" stroke="#ff6a1a" stroke-width="0.8" opacity="0.85" stroke-dasharray="3 1.8 1 1.8"/>
<rect x="74.25" y="112.20" width="4.7" height="4.5" fill="#ff6a1a"/>
<text x="94.2" y="117.15" font-size="9.6" text-anchor="start" fill="#000" >Pythia 6.428 default</text>
<line x1="64.3" y1="127.50" x2="88.7" y2="127.50" stroke="#00a500" stroke-width="0.8" opacity="0.85" stroke-dasharray="2.6 2"/>
<path d="M74.10 125.50L79.10 125.50L76.60 130.00Z" fill="#00a500"/>
<text x="94.2" y="130.2" font-size="9.6" text-anchor="start" fill="#000" >Pythia 6.428 dw</text>
<line x1="64.3" y1="140.55" x2="88.7" y2="140.55" stroke="#404040" stroke-width="0.8" opacity="0.85"/>
<circle cx="76.60" cy="140.55" r="2.1" fill="none" stroke="#404040" stroke-width="1"/>
<text x="94.2" y="143.25" font-size="9.6" text-anchor="start" fill="#000" >Pythia 6.428 p0</text>
</svg></body></html>
